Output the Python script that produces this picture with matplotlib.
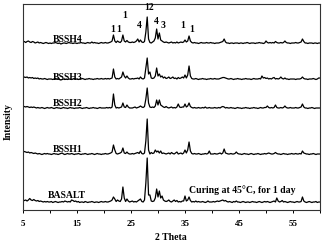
import numpy as np
import matplotlib
matplotlib.use("Agg")
import matplotlib.pyplot as plt

plt.rcParams['font.family'] = ['Liberation Serif', 'DejaVu Serif']
plt.rcParams['font.weight'] = 'bold'

# 2-theta grid (degrees), 0.25 step from 5 to 60
two_theta = np.arange(5, 60.001, 0.25)

# Intensities (arbitrary units), one value per grid point
basalt = [
    2, 2.5, 3, 2, 3, 4.5, 3, 2.5, 3.5, 2.5, 2, 2.5, 1.5, 2, 1.5, 1, 1.5, 1, 1.5, 1,
    1, 1.5, 0.5, 1, 1.5, 1, 0.5, 1, 1, 1.5, 1, 2, 1.5, 1, 1.5, 1, 3, 2.5, 1.5, 2,
    1, 1.5, 0.5, 1, 1, 0.5, 1.5, 1, 0.5, 1, 1, 1.5, 1, 0.5, 1, 1, 0.5, 1, 1.5, 1,
    1, 1.5, 1, 1, 1.5, 2, 3, 6, 4, 1.5, 3, 2, 1.5, 4, 16, 5, 1.5, 4, 2, 1,
    1.5, 2, 1, 1.5, 1, 2, 3, 4, 1.5, 1, 3, 20, 45, 8, 8, 2, 1.5, 2, 5, 14,
    6, 12, 5, 7, 3, 2, 1.5, 2, 3, 1.5, 1, 2, 3, 1.5, 2.5, 1, 1.5, 1, 2, 2,
    7, 2, 3, 6, 2.5, 1, 1.5, 1, 2, 1, 1.5, 1, 1, 1.5, 1, 0.5, 1, 2, 1, 1,
    1, 1.5, 1, 1.5, 2, 1.5, 2, 2.5, 3, 2, 2.5, 1.5, 1, 1.5, 1, 0.5, 1.5, 1, 2, 1,
    1, 0.5, 1, 1.5, 1, 0.5, 1, 1, 0.5, 1, 1.5, 1, 1, 0.5, 1, 1.5, 1, 0.5, 1, 1.5,
    1, 1.5, 1, 0.5, 1, 1.5, 2, 1, 5, 2, 1, 1.5, 2.5, 1, 1.5, 1, 0.5, 1, 1.5, 1,
    1, 0.5, 1, 1.5, 1, 1, 1.5, 6, 2, 1, 0.5, 1, 1.5, 1, 0.5, 1, 1, 1.5, 0.5, 1,
    1,
]
bssh1 = [
    3, 3.5, 3, 2.5, 3, 2, 2.5, 2, 1.5, 2, 1.5, 1, 1.5, 1, 0.5, 1, 1.5, 1, 1.5, 1,
    1, 0.5, 1, 1.5, 1, 1, 0.5, 1, 1.5, 2, 1, 0.5, 1, 1.5, 1, 1, 1.5, 1, 0.5, 1,
    1, 1.5, 1, 0.5, 1, 1, 1.5, 1, 0.5, 1, 1, 1.5, 1, 0.5, 1, 1.5, 1, 1, 0.5, 1,
    1, 1.5, 1, 1, 1.5, 2, 3, 10, 5, 1.5, 1, 1.5, 2, 3, 7, 2, 1.5, 3, 1.5, 1,
    1, 1.5, 1, 1.5, 2, 2.5, 1.5, 4, 1.5, 1, 2, 14, 36, 5, 1, 2.5, 1.5, 2, 5, 3,
    4, 2, 4, 1.5, 2, 1.5, 1, 1.5, 2, 1, 2.5, 1.5, 1, 2, 3, 1, 1.5, 2, 1, 2,
    5, 2, 5, 13, 4, 1.5, 1, 1.5, 1, 1, 1.5, 1, 0.5, 1, 1, 1.5, 1, 1.5, 4, 1,
    1, 1, 1.5, 1, 1, 1.5, 2, 1, 2, 6, 2, 1.5, 1, 1, 1.5, 1, 1, 1.5, 3, 1.5,
    1, 1, 0.5, 1, 1.5, 1, 1, 0.5, 1, 1.5, 1, 0.5, 1, 1, 1.5, 1, 0.5, 1, 1, 1.5,
    1, 1.5, 2, 1.5, 1, 1, 1.5, 2.5, 1.5, 1, 1, 0.5, 1, 1.5, 1, 1, 0.5, 1, 1, 1.5,
    1, 1, 1.5, 1, 1, 1.5, 1, 4, 2, 1.5, 1, 1, 0.5, 1, 1, 1.5, 1, 0.5, 1, 1,
    1,
]
bssh2 = [
    2, 2.5, 2, 2.5, 2, 1.5, 2, 1.5, 2, 1.5, 1, 1.5, 1, 1, 1.5, 1, 0.5, 1, 1.5, 1,
    1, 1.5, 1, 0.5, 1, 1.5, 1, 1, 0.5, 1, 1.5, 1, 1, 0.5, 1, 1.5, 1, 1, 0.5, 1,
    1, 1, 1.5, 1, 0.5, 1, 1, 1.5, 1, 0.5, 1, 1, 1.5, 1, 1, 0.5, 1, 1.5, 1, 1,
    1, 1, 1.5, 1, 1.5, 1, 2, 15, 4, 1, 1.5, 1, 1.5, 2, 6, 2, 1.5, 4, 2, 1,
    1, 1, 1.5, 2, 1, 1.5, 2, 3, 2, 1.5, 2.5, 10, 21, 6, 2, 1.5, 2, 1.5, 3, 9,
    4, 9, 4, 3, 2, 1.5, 2.5, 1.5, 1, 1.5, 2, 1, 1.5, 1, 2, 5, 2, 1.5, 2, 2,
    5, 2, 3, 6, 2.5, 1.5, 1, 1.5, 1, 1, 1.5, 1, 1, 1.5, 1, 2, 1, 1, 1.5, 1,
    1, 1, 1.5, 1, 1, 1.5, 1, 2, 2.5, 2, 1, 1.5, 1, 1, 1.5, 1, 1, 0.5, 1, 1.5,
    1, 1, 0.5, 1, 1, 1.5, 1, 1, 0.5, 1, 1, 1.5, 1, 1, 0.5, 1, 1.5, 1, 1, 1.5,
    1.5, 3, 1.5, 1, 1.5, 1, 1.5, 4, 1.5, 1, 1, 1.5, 1, 1.5, 3, 1.5, 1, 1, 1.5, 1,
    1, 1, 1.5, 1, 1, 1.5, 2, 5, 2, 1, 1, 0.5, 1, 1, 1.5, 1, 0.5, 1, 1, 1,
    1,
]
bssh3 = [
    2, 3, 2.5, 3, 2, 2.5, 2, 2.5, 1.5, 2, 1.5, 2, 1, 1.5, 1, 1, 1.5, 1, 0.5, 1,
    1, 1, 0.5, 1, 1.5, 1, 1, 0.5, 0, 0.5, 1, 0.5, 1, 0.5, 1, 1, 0.5, 1, 1.5, 1,
    1, 0.5, 1, 1, 1.5, 1, 0.5, 1, 1, 1.5, 1, 1, 0.5, 1, 1, 1.5, 1, 1, 1.5, 1,
    1, 1.5, 1, 1.5, 1, 1.5, 2, 11, 3, 1, 1.5, 1, 2, 3, 8, 4, 2, 4, 2, 1,
    1, 1.5, 1, 1.5, 1.5, 2, 1, 3, 1.5, 1, 2, 12, 22, 6, 8, 2, 1.5, 2, 4, 12,
    4, 6, 3, 4, 2, 3, 1.5, 2, 3, 1.5, 2, 3, 1.5, 2, 1, 2.5, 1.5, 2, 3, 2,
    5, 2, 5, 14, 4, 1.5, 1, 1, 1.5, 1, 0.5, 1, 1, 1.5, 1, 1, 0.5, 1, 1, 1.5,
    1, 1, 1.5, 1, 1, 1, 1.5, 2, 2.5, 2.5, 2, 1.5, 1, 1, 1.5, 1, 0.5, 1, 1, 1.5,
    1, 1, 0.5, 1, 1, 1.5, 1, 1, 1, 0.5, 1, 1.5, 1, 1, 1, 1.5, 1, 4, 2, 2.5,
    1.5, 2, 1, 1.5, 1, 2, 2.5, 1, 1.5, 1, 1.5, 3, 1.5, 1, 2, 1, 1, 0.5, 1, 1,
    1, 1, 0.5, 1, 1, 1, 1.5, 3, 1.5, 1, 1, 0.5, 1, 1, 1, 1.5, 1, 0.5, 1, 2,
    2,
]
bssh4 = [
    2, 2.5, 1.5, 2.5, 3, 2, 1.5, 2.5, 2, 1, 1.5, 2, 1, 1.5, 1, 0.5, 1, 1.5, 1, 0.5,
    1, 0.5, 1, 1, 1.5, 1, 0.5, 1, 0, 0.5, 1, 1, 0.5, 1, 1.5, 1, 1, 0.5, 1, 1,
    0.5, 1, 1, 1.5, 1, 1, 0.5, 1, 1.5, 1, 1, 2, 1, 1.5, 1, 1, 0.5, 1, 1.5, 1,
    1, 1.5, 1, 1, 1.5, 2, 3, 9, 3, 1.5, 3, 2, 1.5, 3, 9, 3, 2, 3.5, 2, 1.5,
    1.5, 2, 1.5, 2, 3, 5, 2, 4, 2, 1.5, 2.5, 12, 27, 5, 1.5, 1, 2, 3, 6, 15,
    5, 11, 4, 3, 2, 1.5, 2, 1.5, 1, 1.5, 2, 1, 1.5, 1, 2, 1, 1.5, 2, 1.5, 2,
    4, 2, 3, 8, 3, 1.5, 1, 1.5, 1, 1, 0.5, 1, 1.5, 1, 1, 1, 1.5, 1, 1, 1.5,
    1, 1, 0.5, 1, 1, 1, 1.5, 2, 2.5, 5, 2, 1, 1, 0.5, 1, 1, 0.5, 1, 1, 1,
    0.5, 1, 1, 0.5, 1, 1, 1.5, 1, 0.5, 1, 1, 1, 0.5, 1, 1, 1.5, 1, 1, 0.5, 1,
    3, 1.5, 1, 1.5, 1, 1.5, 1, 2.5, 1.5, 1, 1, 1.5, 1, 1.5, 3, 1.5, 1, 1, 0.5, 1,
    1, 1, 1.5, 1, 1, 1.5, 2, 5, 2.5, 1, 1, 0.5, 1, 1, 1, 0.5, 1, 1, 0.5, 1,
    1,
]

sample_names = ["BASALT", "BSSH1", "BSSH2", "BSSH3", "BSSH4"]
series = [basalt, bssh1, bssh2, bssh3, bssh4]

# peak annotation labels above BSSH4 (label, 2theta)
peak_labels = ["1", "1", "1", "4", "12", "4", "3", "1", "1"]
peak_pos = [21.6, 22.8, 23.8, 26.5, 28.4, 29.6, 31.0, 34.6, 36.2]

tick_values = [5, 15, 25, 35, 45, 55]

# ---- layout / style ----
offsets = [7, 55, 101, 130, 166]
label_y = [15, 60, 107, 133, 170]
peak_label_y = [181, 181, 194, 184, 202, 188, 185, 185, 180]

fig = plt.figure(figsize=(3.26, 2.44), dpi=100)
ax = fig.add_axes([23 / 326, 1 - 210 / 244, (320 - 23) / 326, (210 - 4) / 244])

for vals, off, name, ly in zip(series, offsets, sample_names, label_y):
    ax.plot(two_theta, np.asarray(vals) + off, color='black', lw=0.9)
    ax.text(13.2, ly, name, fontsize=7, fontweight='bold', ha='center', va='center')

for lab, px, py in zip(peak_labels, peak_pos, peak_label_y):
    ax.text(px, py, lab, fontsize=7, fontweight='bold', ha='center', va='center')

ax.text(45.6, 20, "Curing at 45°C, for 1 day", fontsize=7, fontweight='bold',
        ha='center', va='center')

ax.set_xlim(5, 60)
ax.set_ylim(0, 206)
ax.set_yticks([])
ax.set_xticks(tick_values)
ax.set_xticks([10, 20, 30, 40, 50, 60], minor=True)
ax.set_xticklabels([str(t) for t in tick_values], fontsize=6.5, fontweight='bold')
ax.tick_params(axis='x', which='both', direction='out', length=2.5, width=0.7, pad=5)
for s in ax.spines.values():
    s.set_linewidth(0.8)
    s.set_color('#333333')

fig.text(171 / 326, 1 - 238 / 244, "2 Theta", fontsize=7, fontweight='bold',
         ha='center', va='center')
fig.text(8 / 326, 1 - 122 / 244, "Intensity", fontsize=7, fontweight='bold',
         ha='center', va='center', rotation=90)

fig.savefig("out.png", dpi=100)
